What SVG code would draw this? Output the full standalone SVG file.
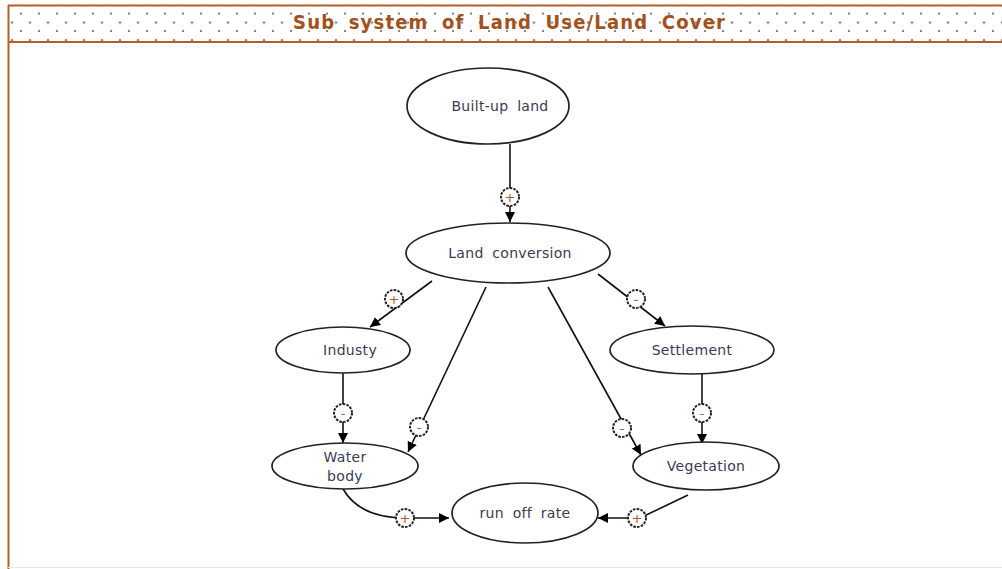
<svg xmlns="http://www.w3.org/2000/svg" width="1002" height="569" viewBox="0 0 1002 569">
<defs>
<pattern id="dots" x="0" y="0" width="18" height="17.5" patternUnits="userSpaceOnUse">
<circle cx="12" cy="5" r="1.2" fill="#808080"/>
<circle cx="3" cy="13.5" r="1.2" fill="#808080"/>
</pattern>
<marker id="arr" viewBox="0 0 10 10" refX="10" refY="5" markerWidth="10" markerHeight="10" markerUnits="userSpaceOnUse" orient="auto">
<path d="M0,0 L10,5 L0,10 z" fill="#000"/>
</marker>
<style>
.node ellipse{fill:#fff;stroke:#222;stroke-width:1.7}
.node text{font-family:"DejaVu Sans",Verdana,sans-serif;font-size:14px;fill:#3a3a55;text-anchor:middle;word-spacing:4px;letter-spacing:0.3px}
.conn path{fill:none;stroke:#111;stroke-width:1.6}
.sign circle{fill:#fff;stroke:#222;stroke-width:2;stroke-dasharray:2.6 1.2}
.sign text{font-family:"DejaVu Sans",sans-serif;font-size:13px;fill:#a05a40;text-anchor:middle}
</style>
</defs>
<rect width="1002" height="569" fill="#fff"/>
<g id="header">
<rect x="9" y="5" width="1000" height="37" fill="url(#dots)"/>
<line x1="8" y1="5.5" x2="1002" y2="5.5" stroke="#b5602a" stroke-width="2"/>
<line x1="8" y1="42" x2="1002" y2="42" stroke="#b5602a" stroke-width="2"/>
<line x1="8.5" y1="5" x2="8.5" y2="569" stroke="#b5602a" stroke-width="2"/>
<line x1="8" y1="567.5" x2="1002" y2="567.5" stroke="#f3e3da" stroke-width="1"/>
<text x="509" y="29" font-family="'DejaVu Sans Condensed','DejaVu Sans',sans-serif" font-weight="bold" font-size="20" fill="#a3501c" text-anchor="middle" textLength="432" lengthAdjust="spacing" word-spacing="6">Sub system of Land Use/Land Cover</text>
</g>
<g id="connectors" class="conn">
<path d="M510,144 L510,222" marker-end="url(#arr)"/>
<path d="M432,281 L370,327" marker-end="url(#arr)"/>
<path d="M598,274 L665,326" marker-end="url(#arr)"/>
<path d="M486,287 L408,452" marker-end="url(#arr)"/>
<path d="M548,287 L641,455" marker-end="url(#arr)"/>
<path d="M343,373 L343,443" marker-end="url(#arr)"/>
<path d="M702,373 L702,444" marker-end="url(#arr)"/>
<path d="M343,489 Q360,518 405,518 L449,518" marker-end="url(#arr)"/>
<path d="M688,495 L640,518 L598,518" marker-end="url(#arr)"/>
</g>
<g id="signs" class="sign">
<g><circle cx="510" cy="197" r="9"/><text x="510" y="201.5">+</text></g>
<g><circle cx="394" cy="299" r="9"/><text x="394" y="303.5">+</text></g>
<g><circle cx="636" cy="299" r="9"/><text x="636" y="303.5">-</text></g>
<g><circle cx="419" cy="427" r="9"/><text x="419" y="431.5">-</text></g>
<g><circle cx="622" cy="428" r="9"/><text x="622" y="432.5">-</text></g>
<g><circle cx="343" cy="413" r="9"/><text x="343" y="417.5">-</text></g>
<g><circle cx="702" cy="413" r="9"/><text x="702" y="417.5">-</text></g>
<g><circle cx="405" cy="518" r="9"/><text x="405" y="522.5">+</text></g>
<g><circle cx="637" cy="518" r="9"/><text x="637" y="522.5">+</text></g>
</g>
<g id="node-builtup" class="node"><ellipse cx="488" cy="106" rx="81" ry="38"/><text x="500" y="111">Built-up land</text></g>
<g id="node-landconversion" class="node"><ellipse cx="508" cy="253" rx="102" ry="30"/><text x="510" y="258">Land conversion</text></g>
<g id="node-industy" class="node"><ellipse cx="343" cy="350" rx="67" ry="23"/><text x="350" y="355">Industy</text></g>
<g id="node-settlement" class="node"><ellipse cx="692" cy="350" rx="82" ry="24"/><text x="692" y="355">Settlement</text></g>
<g id="node-waterbody" class="node"><ellipse cx="345" cy="466" rx="73" ry="23"/><text x="345" y="462">Water</text><text x="345" y="481">body</text></g>
<g id="node-vegetation" class="node"><ellipse cx="706" cy="466" rx="73" ry="24"/><text x="706" y="471">Vegetation</text></g>
<g id="node-runoff" class="node"><ellipse cx="525" cy="513" rx="73" ry="30"/><text x="525" y="518">run off rate</text></g>
</svg>
